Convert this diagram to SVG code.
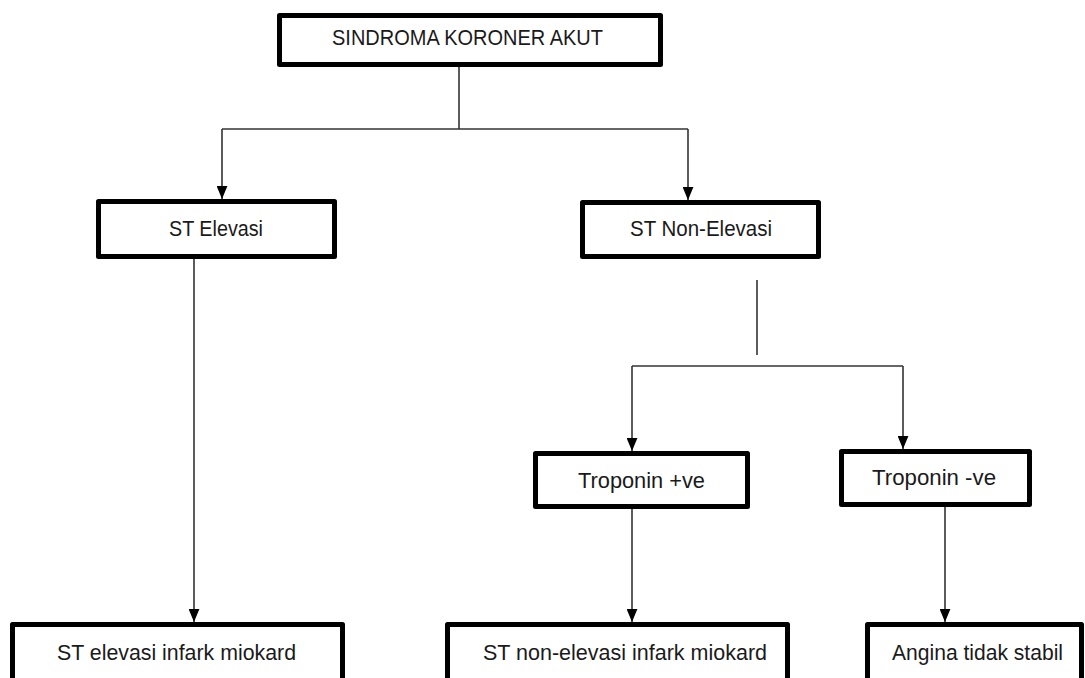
<svg xmlns="http://www.w3.org/2000/svg" width="1085" height="678" viewBox="0 0 1085 678">
<style>
.box{fill:#fff;stroke:#000;stroke-width:5;stroke-linejoin:round}
.lbl{font-family:"Liberation Sans",Arial,sans-serif;font-size:22px;fill:#1a1a1a}
.con{fill:none;stroke:#333;stroke-width:1.6}
</style>
<defs>
<marker id="arr" markerUnits="userSpaceOnUse" viewBox="0 0 12 10" refX="12" refY="5" markerWidth="13" markerHeight="11" orient="auto">
<path d="M0,0 L12,5 L0,10 z" fill="#000"/>
</marker>
</defs>
<rect width="1085" height="678" fill="#fff"/>
<g id="connectors">
<path class="con" d="M459,67 V129"/>
<path class="con" d="M222,129 H688"/>
<path class="con" d="M222,129 V199" marker-end="url(#arr)"/>
<path class="con" d="M688,129 V200" marker-end="url(#arr)"/>
<path class="con" d="M194,259 V622" marker-end="url(#arr)"/>
<path class="con" d="M757,280 V355"/>
<path class="con" d="M632,366 H903"/>
<path class="con" d="M632,366 V451" marker-end="url(#arr)"/>
<path class="con" d="M903,366 V449" marker-end="url(#arr)"/>
<path class="con" d="M632,509 V622" marker-end="url(#arr)"/>
<path class="con" d="M945,507 V622" marker-end="url(#arr)"/>
</g>
<g id="n-acs">
<rect class="box" x="279.5" y="15.5" width="381" height="49"/>
<text class="lbl" x="332" y="45" textLength="271" lengthAdjust="spacingAndGlyphs">SINDROMA KORONER AKUT</text>
</g>
<g id="n-ste">
<rect class="box" x="98.5" y="201.5" width="236" height="55"/>
<text class="lbl" x="169" y="236" textLength="94" lengthAdjust="spacingAndGlyphs">ST Elevasi</text>
</g>
<g id="n-nste">
<rect class="box" x="582.5" y="202.5" width="236" height="54"/>
<text class="lbl" x="630" y="236" textLength="142" lengthAdjust="spacingAndGlyphs">ST Non-Elevasi</text>
</g>
<g id="n-tpos">
<rect class="box" x="535.5" y="453.5" width="212" height="53"/>
<text class="lbl" x="578" y="488" textLength="127" lengthAdjust="spacingAndGlyphs">Troponin +ve</text>
</g>
<g id="n-tneg">
<rect class="box" x="841.5" y="451.5" width="188" height="53"/>
<text class="lbl" x="872" y="485" textLength="124" lengthAdjust="spacingAndGlyphs">Troponin -ve</text>
</g>
<g id="n-stemi">
<rect class="box" x="12.5" y="624.5" width="330" height="70"/>
<text class="lbl" x="57" y="660" textLength="239" lengthAdjust="spacingAndGlyphs">ST elevasi infark miokard</text>
</g>
<g id="n-nstemi">
<rect class="box" x="447.5" y="624.5" width="340" height="70"/>
<text class="lbl" x="483" y="660" textLength="284" lengthAdjust="spacingAndGlyphs">ST non-elevasi infark miokard</text>
</g>
<g id="n-ua">
<rect class="box" x="867.5" y="624.5" width="214" height="70"/>
<text class="lbl" x="892" y="660" textLength="171" lengthAdjust="spacingAndGlyphs">Angina tidak stabil</text>
</g>
</svg>
